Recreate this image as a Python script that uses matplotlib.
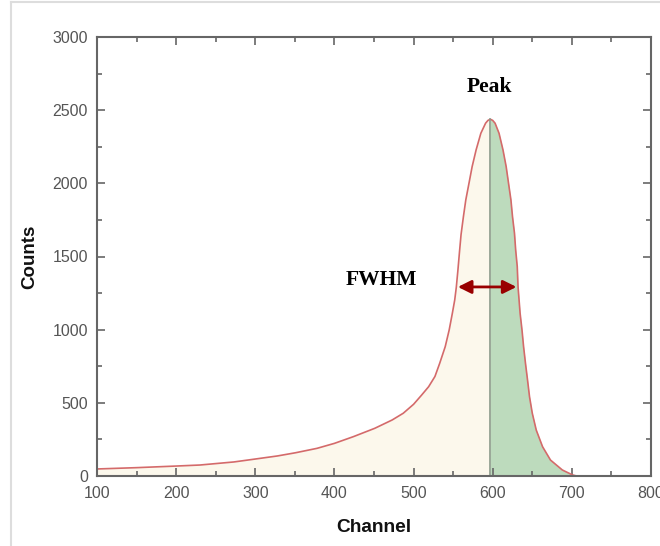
import matplotlib
matplotlib.use("Agg")
import matplotlib.pyplot as plt
from matplotlib.lines import Line2D
from matplotlib.ticker import MultipleLocator
import numpy as np

channel = [100, 150, 200, 230, 273, 300, 328, 351, 378, 400, 424, 451, 473, 487, 500,
           510, 519, 527, 533, 540, 545, 549, 552, 554, 556, 558, 560, 563, 566, 570, 574,
           579, 585, 589, 591, 594, 597, 600, 603, 608, 613, 617, 620, 623, 625, 627.5,
           629, 631, 632, 634.6, 637, 639, 641.4, 644, 646.5, 650, 655, 663, 673, 688,
           701, 706]
counts = [48, 57, 68, 75, 96, 116, 137, 159, 189, 223, 269, 326, 383, 429, 490,
          552, 610, 680, 770, 884, 998, 1112, 1203, 1290, 1405, 1530, 1650, 1773, 1887, 2000, 2114,
          2228, 2342, 2388, 2411, 2430, 2438, 2430, 2411, 2342, 2228, 2114, 2000, 1887, 1773, 1659,
          1545, 1431, 1294, 1112, 998, 884, 770, 656, 542, 429, 314, 200, 109, 41,
          7, 0]
peak_channel = 597
peak_counts = 2438
fwhm_left, fwhm_right, fwhm_level = 556, 630, 1292
x_ticks = [100, 200, 300, 400, 500, 600, 700, 800]
y_ticks = [0, 500, 1000, 1500, 2000, 2500, 3000]

ch = np.array(channel, dtype=float)
ct = np.array(counts, dtype=float)

fig = plt.figure(figsize=(6.6, 5.46), dpi=100)
ax = fig.add_axes([97/660, 1-476/546, (651-97)/660, (476-37)/546])

left = ch <= peak_channel
right = ch >= peak_channel
ax.fill_between(ch[left], 0, ct[left], color='#fcf8ec', lw=0)
ax.fill_between(ch[right], 0, ct[right], color='#bddbbd', lw=0)
ax.plot(ch, ct, color='#d46a6a', lw=1.2, solid_joinstyle='round')
ax.plot([peak_channel, peak_channel], [0, peak_counts], color='#8a9a8a', lw=1.2)

ax.annotate('', xy=(fwhm_left, fwhm_level), xytext=(fwhm_right, fwhm_level),
            arrowprops=dict(arrowstyle='<|-|>', color='#990000', lw=2.0,
                            mutation_scale=20, shrinkA=0, shrinkB=0))

ax.text(596, 2660, 'Peak', family='Liberation Serif', weight='bold',
        fontsize=15.5, ha='center', va='center', color='black')
ax.text(504, 1340, 'FWHM', family='Liberation Serif', weight='bold',
        fontsize=15.5, ha='right', va='center', color='black')

ax.set_xlim(100, 800)
ax.set_ylim(0, 3000)
ax.set_xticks(x_ticks)
ax.set_yticks(y_ticks)
ax.xaxis.set_minor_locator(MultipleLocator(50))
ax.yaxis.set_minor_locator(MultipleLocator(250))
ax.tick_params(which='both', direction='in', top=True, right=True, color='#666666',
               labelcolor='#555555', labelsize=11.5, width=1.2)
ax.tick_params(which='major', length=6)
ax.tick_params(which='minor', length=3.5)
ax.tick_params(axis='x', pad=7.5)
ax.tick_params(axis='y', pad=6.5)
for lab in ax.get_xticklabels() + ax.get_yticklabels():
    lab.set_family('Liberation Sans')
for s in ax.spines.values():
    s.set_color('#666666')
    s.set_linewidth(1.5)

ax.set_xlabel('Channel', family='Liberation Sans', weight='bold', fontsize=13.8,
              labelpad=13, color='#111111')
ax.set_ylabel('Counts', family='Liberation Sans', weight='bold', fontsize=13.5,
              labelpad=10, color='#111111')

fig.add_artist(Line2D([11/660, 1.0], [1-2/546, 1-2/546], transform=fig.transFigure,
                      color='#dddddd', lw=1.5))
fig.add_artist(Line2D([11/660, 11/660], [0, 1-2/546], transform=fig.transFigure,
                      color='#dddddd', lw=1.5))

fig.savefig('out.png', dpi=100)
